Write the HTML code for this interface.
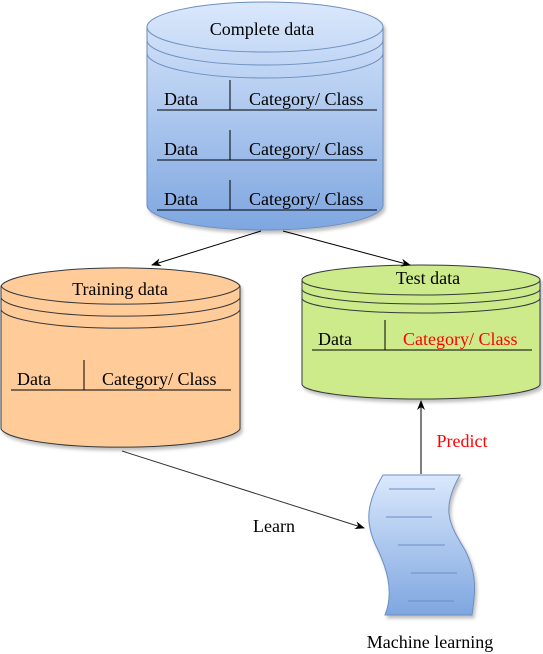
<!DOCTYPE html>
<html><head><meta charset="utf-8"><style>
html,body{margin:0;padding:0;background:#fff;}
svg{display:block;font-family:"Liberation Serif",serif;}
</style></head><body>
<svg width="543" height="654" viewBox="0 0 543 654" xmlns="http://www.w3.org/2000/svg">
<defs>
<linearGradient id="gb" x1="0" y1="0" x2="0" y2="1"><stop offset="0" stop-color="#dae8fc"/><stop offset="1" stop-color="#7ea6e0"/></linearGradient>
<marker id="ar" markerWidth="10" markerHeight="8" refX="9" refY="4" orient="auto" markerUnits="userSpaceOnUse"><path d="M0,0 L10,4 L0,8 L3,4 Z" fill="#000"/></marker>
<filter id="sh" x="-10%" y="-10%" width="130%" height="130%"><feDropShadow dx="2" dy="3" stdDeviation="1.5" flood-color="#000" flood-opacity="0.25"/></filter>
</defs>
<g stroke="#6c8ebf" stroke-width="1" filter="url(#sh)">
<path d="M147,27 A118,25 0 0 1 383,27 L383,205 A118,25 0 0 1 147,205 Z" fill="url(#gb)"/>
</g>
<g stroke="#6c8ebf" fill="none">
<path d="M147,27 A118,25 0 0 0 383,27"/>
<path d="M147,40 A118,25 0 0 0 383,40"/>
<path d="M147,53 A118,25 0 0 0 383,53"/>
</g>
<text x="262" y="35" font-size="18" text-anchor="middle">Complete data</text>
<g stroke="#000" stroke-width="1">
<line x1="157" y1="110" x2="377" y2="110"/><line x1="230" y1="80" x2="230" y2="110"/>
<line x1="157" y1="160" x2="377" y2="160"/><line x1="230" y1="130" x2="230" y2="160"/>
<line x1="157" y1="210" x2="377" y2="210"/><line x1="230" y1="180" x2="230" y2="210"/>
</g>
<g font-size="18">
<text x="164" y="105">Data</text><text x="249" y="105">Category/ Class</text>
<text x="164" y="155">Data</text><text x="249" y="155">Category/ Class</text>
<text x="164" y="205">Data</text><text x="249" y="205">Category/ Class</text>
</g>
<path d="M1,286 A120,20 0 0 1 240,286 L240,429 A120,20 0 0 1 1,429 Z" fill="#ffcc99" stroke="#36393d" filter="url(#sh)"/>
<g stroke="#36393d" fill="none">
<path d="M1,286 A120,20 0 0 0 240,286"/>
<path d="M1,298 A120,20 0 0 0 240,298"/>
<path d="M1,310 A120,20 0 0 0 240,310"/>
</g>
<text x="120" y="295" font-size="18" text-anchor="middle">Training data</text>
<line x1="11" y1="390" x2="231" y2="390" stroke="#000"/><line x1="84" y1="360" x2="84" y2="390" stroke="#000"/>
<text x="17" y="385" font-size="18">Data</text><text x="102" y="385" font-size="18">Category/ Class</text>
<path d="M302,280 A119,15 0 0 1 540,280 L540,384 A119,15 0 0 1 302,384 Z" fill="#cdeb8b" stroke="#36393d" filter="url(#sh)"/>
<g stroke="#36393d" fill="none">
<path d="M302,280 A119,15 0 0 0 540,280"/>
<path d="M302,289 A119,15 0 0 0 540,289"/>
<path d="M302,298 A119,15 0 0 0 540,298"/>
</g>
<text x="428" y="284" font-size="18" text-anchor="middle">Test data</text>
<line x1="312" y1="350" x2="532" y2="350" stroke="#000"/><line x1="385" y1="320" x2="385" y2="350" stroke="#000"/>
<text x="318" y="345" font-size="18">Data</text><text x="403" y="345" font-size="18" fill="#ff0000">Category/ Class</text>
<path d="M383,475 L460,475 C440,510 450,525 465,550 C478,575 475,595 472,615 L385,615 C395,590 385,565 378,550 C365,525 365,505 383,475 Z" fill="url(#gb)" stroke="#6c8ebf" filter="url(#sh)"/>
<g stroke="#6c8ebf">
<line x1="389" y1="489" x2="435" y2="489"/>
<line x1="386" y1="517" x2="432" y2="517"/>
<line x1="398" y1="545" x2="445" y2="545"/>
<line x1="411" y1="573" x2="457" y2="573"/>
<line x1="408" y1="601" x2="454" y2="601"/>
</g>
<g stroke="#000" stroke-width="1" fill="none">
<line x1="261" y1="231" x2="152" y2="265" marker-end="url(#ar)"/>
<line x1="283" y1="231" x2="410" y2="265" marker-end="url(#ar)"/>
<line x1="122" y1="451" x2="364" y2="528" stroke="#333" marker-end="url(#ar)"/>
<line x1="421" y1="474" x2="421" y2="401" marker-end="url(#ar)"/>
</g>
<text x="274" y="532" font-size="18" text-anchor="middle">Learn</text>
<text x="462" y="447" font-size="18" text-anchor="middle" fill="#ff0000">Predict</text>
<text x="430" y="648" font-size="18" text-anchor="middle">Machine learning</text>
</svg>
</body></html>
